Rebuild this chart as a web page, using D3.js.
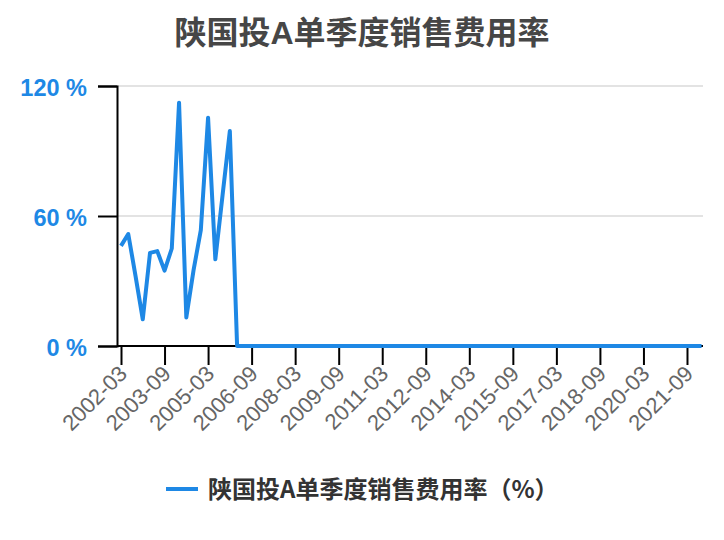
<!DOCTYPE html>
<html><head><meta charset="utf-8">
<script src="https://cdn.jsdelivr.net/npm/d3@7"></script>
<style>
html,body{margin:0;padding:0;background:#fff;}
svg{display:block;font-family:"Liberation Sans","Noto Sans CJK SC",sans-serif;}
</style></head>
<body><svg id="c" width="724" height="540"></svg>
<script>
const title = "陕国投A单季度销售费用率";
const seriesName = "陕国投A单季度销售费用率（%）";
const startYear = 2002;
// quarterly values 2002-03 .. 2022-03
const values = [46.2, 51.7, 32.4, 12.3, 43, 43.8, 34.8, 45, 112.3, 13.2, 35, 53.5, 105.4, 40, 69.7, 99.2,
  0,0,0,0,0,0,0,0,0,0,0,0,0,0,0,0,0,0,0,0,0,0,0,0,0,0,0,0,0,0,0,0,0,0,0,0,0,0,0,0,0,0,0,0,0,0,0,0,0,0,0,0,0,0,0,0,0,0,0,0,0,0,0,0,0];
const months = ["03","06","09","12"];
const categories = values.map((v,i)=> (startYear + Math.floor(i/4)) + "-" + months[i%4]);
const yTicks = [0, 60, 120];
const tickEvery = 6;

const svg = d3.select("#c");
const blue = "#1e88e5";
const mLeft = 117, mRight = 703, mTop = 86, mBottom = 346;

const x = d3.scalePoint().domain(categories).range([121, 701.5]);
const y = d3.scaleLinear().domain([0,120]).range([mBottom, mTop]);

svg.append("text").attr("x", 362).attr("y", 44).attr("text-anchor","middle")
  .attr("font-size", 32).attr("font-weight","bold").attr("fill","#464646").text(title);

// grid
svg.append("g").selectAll("line").data(yTicks.filter(d=>d>0)).join("line")
  .attr("x1", mLeft).attr("x2", mRight).attr("y1", d=>y(d)).attr("y2", d=>y(d))
  .attr("stroke","#e3e3e3").attr("stroke-width",2);

// y axis
const ya = svg.append("g").attr("transform",`translate(${mLeft},0)`)
  .call(d3.axisLeft(y).tickValues(yTicks).tickSize(19).tickPadding(11).tickFormat(d=>d+" %"));
ya.select(".domain").attr("stroke","#000").attr("stroke-width",2);
ya.selectAll(".tick line").attr("stroke","#000").attr("stroke-width",2);
ya.selectAll(".tick text").attr("fill",blue).attr("font-size",23.5).attr("font-weight","bold")
  .attr("font-family",'"Liberation Sans",sans-serif').attr("dy","0.4em");

// x axis
const xTickVals = categories.filter((d,i)=> i % tickEvery === 0);
const xa = svg.append("g").attr("transform",`translate(0,${mBottom})`)
  .call(d3.axisBottom(x).tickValues(xTickVals).tickSize(19).tickSizeOuter(0));
xa.select(".domain").attr("d", `M${mLeft},0H${mRight}`).attr("stroke","#000").attr("stroke-width",2);
xa.selectAll(".tick line").attr("stroke","#000").attr("stroke-width",2);
xa.selectAll(".tick text").attr("fill","#666").attr("font-size",22)
  .attr("font-family",'"Liberation Sans",sans-serif')
  .attr("text-anchor","end").attr("dy",null).attr("y",0)
  .attr("transform","translate(7,29) rotate(-45)");

// line
svg.append("path").datum(values)
  .attr("fill","none").attr("stroke",blue).attr("stroke-width",4).attr("stroke-linejoin","round")
  .attr("d", d3.line().x((d,i)=>x(categories[i])).y(d=>y(d)));

// legend
svg.append("line").attr("x1",166).attr("x2",198).attr("y1",489).attr("y2",489)
  .attr("stroke",blue).attr("stroke-width",4);
svg.append("text").attr("x",208).attr("y",498).attr("font-size",24).attr("fill","#333")
  .attr("font-family",'"Noto Sans CJK SC",sans-serif').attr("font-weight","bold").text(seriesName);
</script></body></html>
